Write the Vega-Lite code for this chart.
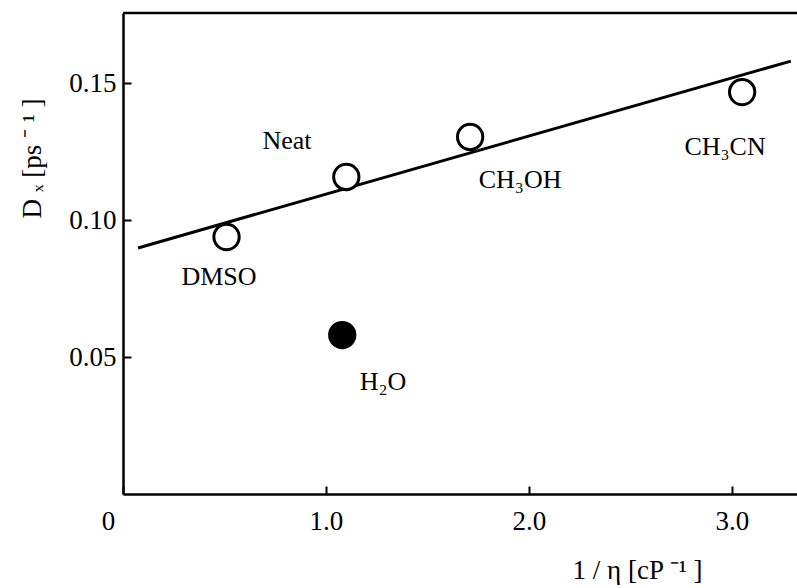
{
  "$schema": "https://vega.github.io/schema/vega-lite/v6.json",
  "width": 674,
  "height": 481,
  "autosize": {"type": "none"},
  "padding": {"left": 123, "top": 13, "right": 0, "bottom": 94},
  "background": "white",
  "config": {
    "view": {"stroke": null},
    "font": "Liberation Serif",
    "axis": {
      "grid": false,
      "domainColor": "black",
      "domainWidth": 2.5,
      "tickColor": "black",
      "tickWidth": 2,
      "labelColor": "black",
      "titleColor": "black",
      "titleFontWeight": "normal",
      "labelFont": "Liberation Serif",
      "titleFont": "Liberation Serif"
    }
  },
  "datasets": {
    "points": [
      {"solvent": "DMSO", "inv_eta": 0.51, "Dx": 0.0938, "kind": "open"},
      {"solvent": "Neat", "inv_eta": 1.10, "Dx": 0.1157, "kind": "open"},
      {"solvent": "CH3OH", "inv_eta": 1.71, "Dx": 0.1303, "kind": "open"},
      {"solvent": "CH3CN", "inv_eta": 3.05, "Dx": 0.1467, "kind": "open"},
      {"solvent": "H2O", "inv_eta": 1.08, "Dx": 0.058, "kind": "filled"}
    ],
    "fit": [
      {"inv_eta": 0.074, "Dx": 0.0898},
      {"inv_eta": 3.29, "Dx": 0.158}
    ],
    "labels": [
      {"text": "Neat", "inv_eta": 0.808, "Dx": 0.1288},
      {"text": "DMSO", "inv_eta": 0.473, "Dx": 0.0792},
      {"text": "CH₃OH", "inv_eta": 1.956, "Dx": 0.1146},
      {"text": "CH₃CN", "inv_eta": 2.966, "Dx": 0.1266},
      {"text": "H₂O", "inv_eta": 1.281, "Dx": 0.0409}
    ],
    "frame": [
      {"inv_eta": 0, "inv_eta_end": 3.3202, "Dx": 0.17555}
    ]
  },
  "encoding": {
    "x": {
      "field": "inv_eta",
      "type": "quantitative",
      "scale": {"domain": [0, 3.3202], "nice": false, "zero": false},
      "axis": {
        "values": [0, 1, 2, 3],
        "labelExpr": "datum.value == 0 ? '0' : format(datum.value, '.1f')",
        "labelFontSize": 27,
        "labelFlush": false,
        "labelOverlap": false,
        "tickSize": -8,
        "labelPadding": 22,
        "labelOffset": {"condition": {"test": "datum.value == 0", "value": -15}, "value": 0},
        "title": "1 / η [cP ⁻¹ ]",
        "titleFontSize": 27,
        "titleX": 514,
        "titleY": 76,
        "titleAlign": "center",
        "titleBaseline": "middle"
      }
    },
    "y": {
      "field": "Dx",
      "type": "quantitative",
      "scale": {"domain": [0, 0.17555], "nice": false, "zero": false},
      "axis": {
        "values": [0.05, 0.1, 0.15],
        "format": ".2f",
        "labelFontSize": 27,
        "labelFlush": false,
        "labelOverlap": false,
        "tickSize": -8,
        "labelPadding": 15,
        "title": "D ₓ [ps ⁻ ¹ ]",
        "titleFontSize": 27,
        "titleX": -91,
        "titleY": 145,
        "titleAngle": -90,
        "titleAlign": "center",
        "titleBaseline": "middle"
      }
    }
  },
  "layer": [
    {
      "data": {"name": "frame"},
      "mark": {"type": "rule", "color": "black", "strokeWidth": 2.5},
      "encoding": {
        "x2": {"field": "inv_eta_end"}
      }
    },
    {
      "data": {"name": "fit"},
      "mark": {"type": "line", "color": "black", "strokeWidth": 3}
    },
    {
      "data": {"name": "points"},
      "mark": {"type": "point", "shape": "circle", "size": 640, "strokeWidth": 3, "stroke": "black", "filled": true, "opacity": 1},
      "encoding": {
        "fill": {
          "field": "kind",
          "type": "nominal",
          "scale": {"domain": ["open", "filled"], "range": ["white", "black"]},
          "legend": null
        }
      }
    },
    {
      "data": {"name": "labels"},
      "mark": {"type": "text", "fontSize": 26, "font": "Liberation Serif", "color": "black", "align": "center", "baseline": "middle"},
      "encoding": {
        "text": {"field": "text"}
      }
    }
  ]
}
